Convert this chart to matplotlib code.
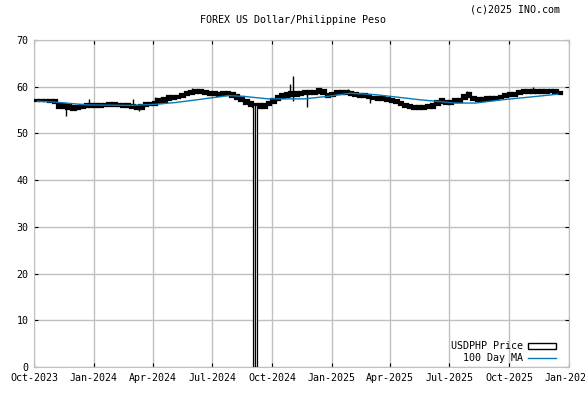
import numpy as np
import pandas as pd
import matplotlib
matplotlib.use("Agg")
import matplotlib.pyplot as plt
import matplotlib.dates as mdates
from matplotlib.patches import Patch
from matplotlib.lines import Line2D

plt.rcParams['font.family'] = ['DejaVu Sans Mono']
FS = 7.2

# weekly price range (week starting dates)
week_start = pd.date_range('2023-10-02', periods=116, freq='7D')
week_low = [56.85, 56.85, 56.85, 56.75, 56.5, 55.5, 55.4, 55.2, 55.1, 55.2,
            55.4, 55.6, 55.6, 55.6, 55.7, 55.8, 55.8, 55.9, 55.8, 55.7,
            55.7, 55.5, 55.3, 55.2, 55.9, 56.0, 56.0, 56.5, 56.8, 57.2,
            57.4, 57.5, 57.7, 58.2, 58.5, 58.6, 58.6, 58.5, 58.3, 58.2,
            58.1, 58.2, 58.2, 57.8, 57.4, 56.9, 56.4, 55.9, 55.6, 55.4,
            55.5, 56.0, 56.6, 57.2, 57.6, 57.9, 58.0, 58.0, 58.3, 58.5,
            58.5, 58.4, 58.7, 58.5, 57.9, 58.1, 58.5, 58.5, 58.4, 58.3,
            58.0, 57.9, 57.8, 57.6, 57.3, 57.2, 57.1, 57.0, 56.8, 56.5,
            56.0, 55.6, 55.4, 55.3, 55.2, 55.3, 55.4, 55.4, 56.0, 56.6,
            56.4, 56.3, 56.7, 56.8, 57.3, 57.7, 57.1, 57.0, 57.0, 57.1,
            57.2, 57.3, 57.5, 57.9, 58.0, 58.0, 58.5, 58.7, 58.7, 58.7,
            58.6, 58.6, 58.7, 58.8, 58.6, 58.4]
week_high = [57.15, 57.15, 57.2, 57.1, 57.1, 56.3, 56.2, 56.0, 55.9, 55.9,
             56.0, 56.2, 56.3, 56.2, 56.3, 56.4, 56.5, 56.5, 56.4, 56.3,
             56.3, 56.1, 55.9, 56.0, 56.5, 56.6, 56.8, 57.3, 57.6, 58.0,
             58.1, 58.1, 58.5, 58.9, 59.1, 59.2, 59.2, 59.1, 58.9, 58.8,
             58.7, 58.8, 58.8, 58.6, 58.2, 57.7, 57.2, 56.7, 56.4, 56.2,
             56.3, 56.8, 57.4, 58.0, 58.4, 58.7, 58.8, 58.8, 58.9, 59.1,
             59.1, 59.0, 59.5, 59.3, 58.5, 58.7, 59.1, 59.1, 59.0, 58.9,
             58.6, 58.5, 58.4, 58.2, 57.9, 57.8, 57.7, 57.6, 57.4, 57.2,
             56.8, 56.4, 56.1, 55.9, 55.8, 55.9, 56.0, 56.2, 57.0, 57.4,
             57.0, 56.9, 57.3, 57.4, 58.3, 58.6, 57.9, 57.6, 57.6, 57.7,
             57.8, 57.9, 58.1, 58.5, 58.6, 58.6, 59.1, 59.3, 59.3, 59.3,
             59.2, 59.2, 59.3, 59.4, 59.2, 58.9]

# single-day wicks
spike_dates = pd.to_datetime(['2023-11-20', '2023-12-25', '2024-03-02', '2024-03-11',
                              '2024-04-04', '2024-05-31', '2024-10-29', '2024-11-03',
                              '2024-11-24', '2024-12-14', '2025-01-26', '2025-03-01',
                              '2025-07-28', '2025-11-07'])
spike_low = [53.8, 55.8, 55.9, 54.7, 56.5, 58.6, 57.8, 57.0, 55.7, 58.7, 58.5, 56.5, 58.0, 58.7]
spike_high = [55.9, 57.4, 57.4, 55.9, 57.9, 59.8, 60.5, 62.2, 58.6, 59.7, 59.6, 57.6, 59.0, 60.0]

# bad ticks that drop to zero
drop_dates = pd.to_datetime(['2024-09-03 12:00', '2024-09-07 00:00'])
drop_low = [0.0, 0.0]
drop_high = [56.0, 56.0]

# 100 day moving average
ma_dates = pd.to_datetime(['2023-10-06', '2023-11-03', '2023-12-22', '2024-01-26', '2024-02-26',
                           '2024-04-01', '2024-05-05', '2024-06-13', '2024-07-26', '2024-08-21',
                           '2024-09-25', '2024-10-29', '2024-11-21', '2024-12-29', '2025-01-29',
                           '2025-03-09', '2025-04-16', '2025-05-17', '2025-06-17', '2025-07-10',
                           '2025-08-10', '2025-09-20', '2025-11-10', '2025-12-15'])
ma_vals = [56.9, 56.7, 56.1, 56.05, 56.0, 56.2, 56.6, 57.3, 58.1, 57.9,
           57.4, 57.4, 57.4, 58.0, 58.6, 58.3, 57.7, 57.2, 56.8, 56.5,
           56.5, 57.2, 57.9, 58.4]

tick_dates = pd.date_range('2023-10-01', '2026-01-01', freq='QS-OCT')

fig = plt.figure(figsize=(5.85, 3.94), dpi=100)
ax = fig.add_axes([0.0581, 0.0685, 0.9145, 0.83])

ax.bar(week_start, np.array(week_high) - np.array(week_low), bottom=week_low,
       width=7, align='edge', color='black', edgecolor='black', linewidth=1.6, zorder=3)
ax.vlines(spike_dates, spike_low, spike_high, color='black', linewidth=1, zorder=3)
ax.bar(drop_dates, np.array(drop_high) - np.array(drop_low), bottom=drop_low,
       width=3.5, color='white', edgecolor='black', linewidth=0.9, zorder=3)
ax.plot(ma_dates, ma_vals, color='#0a78b4', linewidth=1, zorder=4)

ax.set_xlim(pd.Timestamp('2023-10-01'), pd.Timestamp('2026-01-01'))
ax.set_ylim(0, 70)
ax.set_yticks(range(0, 71, 10))
ax.set_xticks(tick_dates)
ax.xaxis.set_major_formatter(mdates.DateFormatter('%b-%Y'))
ax.grid(True, color='#c0c0c0', linewidth=1)
ax.set_axisbelow(True)
for s in ax.spines.values():
    s.set_color('#c0c0c0')
ax.tick_params(direction='in', length=3, width=0.8, color='black', top=True, right=True,
               labelsize=FS, pad=4)

handles = [Patch(facecolor='white', edgecolor='black', linewidth=1),
           Line2D([], [], color='#0a78b4', linewidth=1)]
ax.legend(handles, ['USDPHP Price', '100 Day MA'], loc='lower right',
          bbox_to_anchor=(0.9888, -0.009), frameon=False,
          markerfirst=False, fontsize=FS, handlelength=2.8, handleheight=0.6,
          handletextpad=0.5, labelspacing=0.15, borderaxespad=0.3)

fig.text(0.5, 0.948, 'FOREX US Dollar/Philippine Peso', ha='center', va='center', fontsize=FS)
fig.text(0.957, 0.977, '(c)2025 INO.com', ha='right', va='center', fontsize=FS)

fig.savefig('out.png', dpi=100)
